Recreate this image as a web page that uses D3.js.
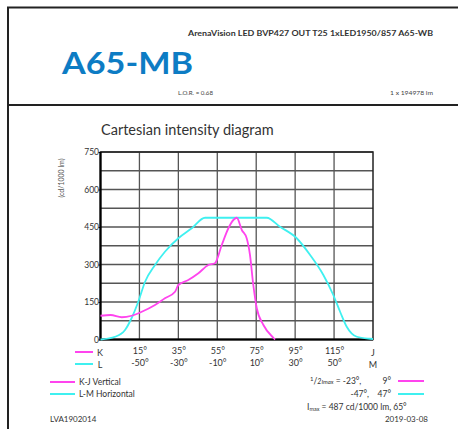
<!DOCTYPE html>
<html><head><meta charset="utf-8">
<script src="https://cdn.jsdelivr.net/npm/d3@7"></script>
<style>
html,body{margin:0;padding:0;background:#fff;}
svg{display:block;}
text{font-family:Lato, "Open Sans", sans-serif;}
</style></head>
<body>
<svg id="c" width="458" height="429"></svg>
<script>
// K-J Vertical (angles in K degrees), values in cd/1000 lm
const kjAngles = [-5, 0.2, 5.9, 11, 16.2, 23, 28.1, 33.3, 35, 40.1, 45.3, 50.4, 53.8, 57.3, 60.7, 63.5, 65, 67.6, 70.1, 71.8, 73.5, 75.3, 78.7, 83.8, 84.7];
const kjValues = [95, 98, 89, 95, 111, 138, 165, 191, 218, 238, 265, 298, 305, 378, 445, 480, 487, 438, 405, 338, 218, 125, 58, 7, 0];
// L-M Horizontal (angles in L degrees)
const lmAngles = [-70, -62.5, -57.4, -54, -50.6, -47.1, -42, -36.9, -30, -23.1, -16.3, 0, 15.4, 22.2, 30.8, 37.7, 44.5, 49.6, 53.1, 56.5, 61.7, 68.5, 70];
const lmValues = [0, 11, 38, 86, 151, 231, 298, 351, 405, 445, 487, 487, 487, 451, 405, 338, 258, 178, 111, 51, 11, 3, 2];
const yTicks = [0, 150, 300, 450, 600, 750];
const yGrid = [0, 75, 150, 225, 300, 375, 450, 525, 600, 675, 750];
const kTicks = [15, 35, 55, 75, 95, 115];
const lTicks = [-50, -30, -10, 10, 30, 50];

const svg = d3.select("#c");
const L = 100.5, R = 373, T = 152, B = 339.5;
const xK = d3.scaleLinear().domain([-5, 135]).range([L, R]);
const xL = d3.scaleLinear().domain([-70, 70]).range([L, R]);
const y = d3.scaleLinear().domain([0, 750]).range([B, T]);
const magenta = "#ff44ee", cyan = "#3ff0f0";

// frame
svg.append("path").attr("d", "M8,429V7.5H458").attr("fill","none").attr("stroke","#222").attr("stroke-width",2);
svg.append("line").attr("x1",8).attr("x2",458).attr("y1",105).attr("y2",105).attr("stroke","#222").attr("stroke-width",2);

// header
svg.append("text").attr("x",188).attr("y",36).attr("font-size",6.5).attr("font-weight","bold").attr("fill","#333")
  .attr("textLength",245).attr("lengthAdjust","spacingAndGlyphs")
  .text("ArenaVision LED BVP427 OUT T25 1xLED1950/857 A65-WB");
svg.append("text").attr("x",62).attr("y",74).attr("font-size",30).attr("font-weight","bold").attr("fill","#0d7cc4")
  .attr("font-family","'Open Sans', sans-serif").attr("textLength",131).attr("lengthAdjust","spacingAndGlyphs").text("A65-MB");
svg.append("text").attr("x",178).attr("y",95).attr("font-size",5).attr("fill","#444")
  .attr("textLength",35).attr("lengthAdjust","spacingAndGlyphs").text("L.O.R. = 0.68");
svg.append("text").attr("x",390).attr("y",95).attr("font-size",5).attr("fill","#444")
  .attr("textLength",43).attr("lengthAdjust","spacingAndGlyphs").text("1 x 194978 lm");

// title
svg.append("text").attr("x",101).attr("y",135).attr("font-size",14.5).attr("fill","#333").text("Cartesian intensity diagram");

// grid
const g = svg.append("g");
g.selectAll("line.h").data(yGrid).join("line").attr("x1",L).attr("x2",R)
  .attr("y1",d=>y(d)).attr("y2",d=>y(d)).attr("stroke","#555").attr("stroke-width",1.3);
g.selectAll("line.v").data(kTicks).join("line").attr("y1",T).attr("y2",B)
  .attr("x1",d=>xK(d)).attr("x2",d=>xK(d)).attr("stroke","#555").attr("stroke-width",1.3);
g.append("rect").attr("x",L).attr("y",T).attr("width",R-L).attr("height",B-T).attr("fill","none").attr("stroke","#222").attr("stroke-width",1.5);
g.append("path").attr("d",`M${L},${T}V${B}H${R}`).attr("fill","none").attr("stroke","#000").attr("stroke-width",2.2);

// y axis
const ya = svg.append("g").attr("transform",`translate(${L},0)`)
  .call(d3.axisLeft(y).tickValues(yTicks).tickSize(2).tickFormat(d3.format("d")));
ya.select(".domain").remove();
ya.selectAll("text").attr("font-size",8.5).attr("fill","#333").attr("x",-1.5);
ya.selectAll("line").attr("stroke","#000");
svg.append("text").attr("transform",`translate(64,178) rotate(-90)`).attr("text-anchor","middle")
  .attr("font-size",7).attr("fill","#555").text("(cd/1000 lm)");

// x axes
const xa1 = svg.append("g").attr("transform",`translate(0,${B})`)
  .call(d3.axisBottom(xK).tickValues(kTicks).tickSize(0).tickPadding(8).tickFormat(d=>d+"°"));
xa1.select(".domain").remove();
xa1.selectAll("text").attr("font-size",9).attr("fill","#333");
const xa2 = svg.append("g").attr("transform",`translate(0,${B+12})`)
  .call(d3.axisBottom(xL).tickValues(lTicks).tickSize(0).tickPadding(8).tickFormat(d=>d+"°"));
xa2.select(".domain").remove();
xa2.selectAll("text").attr("font-size",9).attr("fill","#333");

svg.append("text").attr("x",100).attr("y",356).attr("text-anchor","middle").attr("font-size",9).attr("fill","#333").text("K");
svg.append("text").attr("x",100).attr("y",368).attr("text-anchor","middle").attr("font-size",9).attr("fill","#333").text("L");
svg.append("text").attr("x",373).attr("y",356).attr("text-anchor","middle").attr("font-size",9).attr("fill","#333").text("J");
svg.append("text").attr("x",373).attr("y",368).attr("text-anchor","middle").attr("font-size",9).attr("fill","#333").text("M");
svg.append("line").attr("x1",75).attr("x2",93).attr("y1",352).attr("y2",352).attr("stroke",magenta).attr("stroke-width",2);
svg.append("line").attr("x1",75).attr("x2",93).attr("y1",364).attr("y2",364).attr("stroke",cyan).attr("stroke-width",2);

// curves
const lineK = d3.line().x((d,i)=>xK(kjAngles[i])).y(d=>y(d)).curve(d3.curveMonotoneX);
const lineL = d3.line().x((d,i)=>xL(lmAngles[i])).y(d=>y(d)).curve(d3.curveMonotoneX);
svg.append("path").attr("d",lineL(lmValues)).attr("fill","none").attr("stroke",cyan).attr("stroke-width",1.8);
svg.append("path").attr("d",lineK(kjValues)).attr("fill","none").attr("stroke",magenta).attr("stroke-width",1.8);

// legend left
svg.append("line").attr("x1",50).attr("x2",75).attr("y1",382).attr("y2",382).attr("stroke",magenta).attr("stroke-width",2);
svg.append("line").attr("x1",50).attr("x2",75).attr("y1",394).attr("y2",394).attr("stroke",cyan).attr("stroke-width",2);
svg.append("text").attr("x",79).attr("y",385).attr("font-size",8.5).attr("fill","#333").text("K-J Vertical");
svg.append("text").attr("x",79).attr("y",397).attr("font-size",8.5).attr("fill","#333").text("L-M Horizontal");
svg.append("text").attr("x",50).attr("y",422).attr("font-size",8).attr("fill","#333").text("LVA1902014");

// legend right
const r1 = svg.append("text").attr("x",310).attr("y",384).attr("font-size",8.5).attr("fill","#333");
r1.append("tspan").attr("font-size",6).attr("dy",-3).text("1");
r1.append("tspan").attr("dy",3).text("/");
r1.append("tspan").attr("font-size",7).attr("font-style","italic").text("2");
r1.append("tspan").attr("font-size",6).attr("font-style","italic").text("Imax");
r1.append("tspan").text(" = -23°,");
svg.append("text").attr("x",391).attr("y",384).attr("text-anchor","end").attr("font-size",8.5).attr("fill","#333").text("9°");
svg.append("text").attr("x",369).attr("y",397).attr("text-anchor","end").attr("font-size",8.5).attr("fill","#333").text("-47°,");
svg.append("text").attr("x",391).attr("y",397).attr("text-anchor","end").attr("font-size",8.5).attr("fill","#333").text("47°");
svg.append("line").attr("x1",398).attr("x2",424).attr("y1",381).attr("y2",381).attr("stroke",magenta).attr("stroke-width",2);
svg.append("line").attr("x1",398).attr("x2",424).attr("y1",394).attr("y2",394).attr("stroke",cyan).attr("stroke-width",2);
const r3 = svg.append("text").attr("x",307).attr("y",410).attr("font-size",8.5).attr("fill","#333");
r3.append("tspan").text("I");
r3.append("tspan").attr("font-size",5.5).attr("dy",1).text("max");
r3.append("tspan").attr("dy",-1).text(" = 487 cd/1000 lm, 65°");
svg.append("text").attr("x",428).attr("y",422).attr("text-anchor","end").attr("font-size",8).attr("fill","#333").text("2019-03-08");
</script>
</body></html>
